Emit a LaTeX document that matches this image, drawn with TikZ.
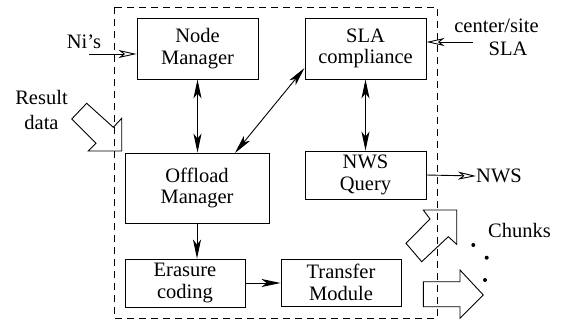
\documentclass[tikz,border=0pt]{standalone}
\usepackage{fontspec}
\setmainfont{Liberation Serif}
\usetikzlibrary{arrows.meta}
\newcommand\dfont{\fontsize{20.5}{21.5}\selectfont}
\begin{document}
\begin{tikzpicture}[x=1pt,y=-1pt,
  box/.style={draw,line width=0.9pt,inner sep=0pt,align=center,font=\dfont},
  lbl/.style={inner sep=0pt,align=center,font=\dfont},
  fa/.style={line width=0.9pt,-{Stealth[length=19pt,width=8pt,inset=5pt]}},
  da/.style={line width=0.9pt,{Stealth[length=19pt,width=8pt,inset=5pt]}-{Stealth[length=19pt,width=8pt,inset=5pt]}},
  oa/.style={line width=0.9pt,-{Stealth[open,length=18pt,width=8pt,inset=5pt]}},
  blk/.style={line width=0.9pt,line join=miter},
  dashbox/.style={draw,line width=0.9pt,dash pattern=on 7pt off 5pt}
]
\useasboundingbox (0,0) rectangle (566,325);
% dashed boundary
\draw[dashbox] (114,7) rectangle (437,318);
% boxes
\node[box,minimum width=121pt,minimum height=61pt] (nm) at (197.5,48.5) {Node\\Manager};
\node[box,minimum width=121pt,minimum height=61pt] (sla) at (365.5,48.5) {SLA\\compliance};
\node[box,minimum width=144pt,minimum height=70pt] (off) at (197,188) {Offload\\Manager};
\node[box,minimum width=121pt,minimum height=48pt] (nws) at (365.5,175) {NWS\\Query};
\node[box,minimum width=120pt,minimum height=48pt] (ec) at (185,283) {Erasure\\coding};
\node[box,minimum width=120pt,minimum height=47pt] (tm) at (341,282.5) {Transfer\\Module};
% labels
\node[lbl] (nisl) at (84,42) {Ni’s};
\node[lbl] (csl) at (496.5,26) {center/site};
\node[lbl] (csl2) at (508,49) {SLA};
\node[lbl] (nwsl) at (499,176) {NWS};
\node[lbl] (res) at (41.5,110) {Result\\[3pt]data};
\node[lbl] (chk) at (519.5,230) {Chunks};
% coordinates
\coordinate (nis) at (89,54);
\coordinate (cs) at (473,42);
\coordinate (offtop) at (235,153);
\coordinate (slaleft) at (304.5,68);
% connectors
\draw[oa] (nis) -- (nis -| nm.west);
\draw[oa] (cs) -- (cs -| sla.east);
\draw[oa] (nws.east) -- (nwsl.west);
\draw[da] (nm.south) -- (nm.south |- off.north);
\draw[da] (sla.south) -- (sla.south |- nws.north);
\draw[da] (offtop) -- (slaleft);
\draw[fa] (off.south) -- (off.south |- ec.north);
\draw[fa] (ec.east) -- (ec.east -| tm.west);
% block arrows
\draw[blk] (71.7,119) -- (86.7,103.3) -- (113.3,127.3) -- (121.7,118.3) -- (121.7,151) -- (88.3,151) -- (96,143.3) -- cycle;
\draw[blk] (421.7,261.7) -- (406,243.3) -- (430,219) -- (423.3,210) -- (456.7,210) -- (456.7,244.3) -- (448.3,236.7) -- cycle;
\draw[blk] (423.3,281.7) -- (460,281.7) -- (460,270) -- (483.3,295) -- (460,318.3) -- (460,306.7) -- (423.3,306.7) -- cycle;
% dots
\fill (473.3,245) circle (2pt);
\fill (486.7,257.7) circle (2pt);
\fill (485,280) circle (2pt);
\end{tikzpicture}
\end{document}
